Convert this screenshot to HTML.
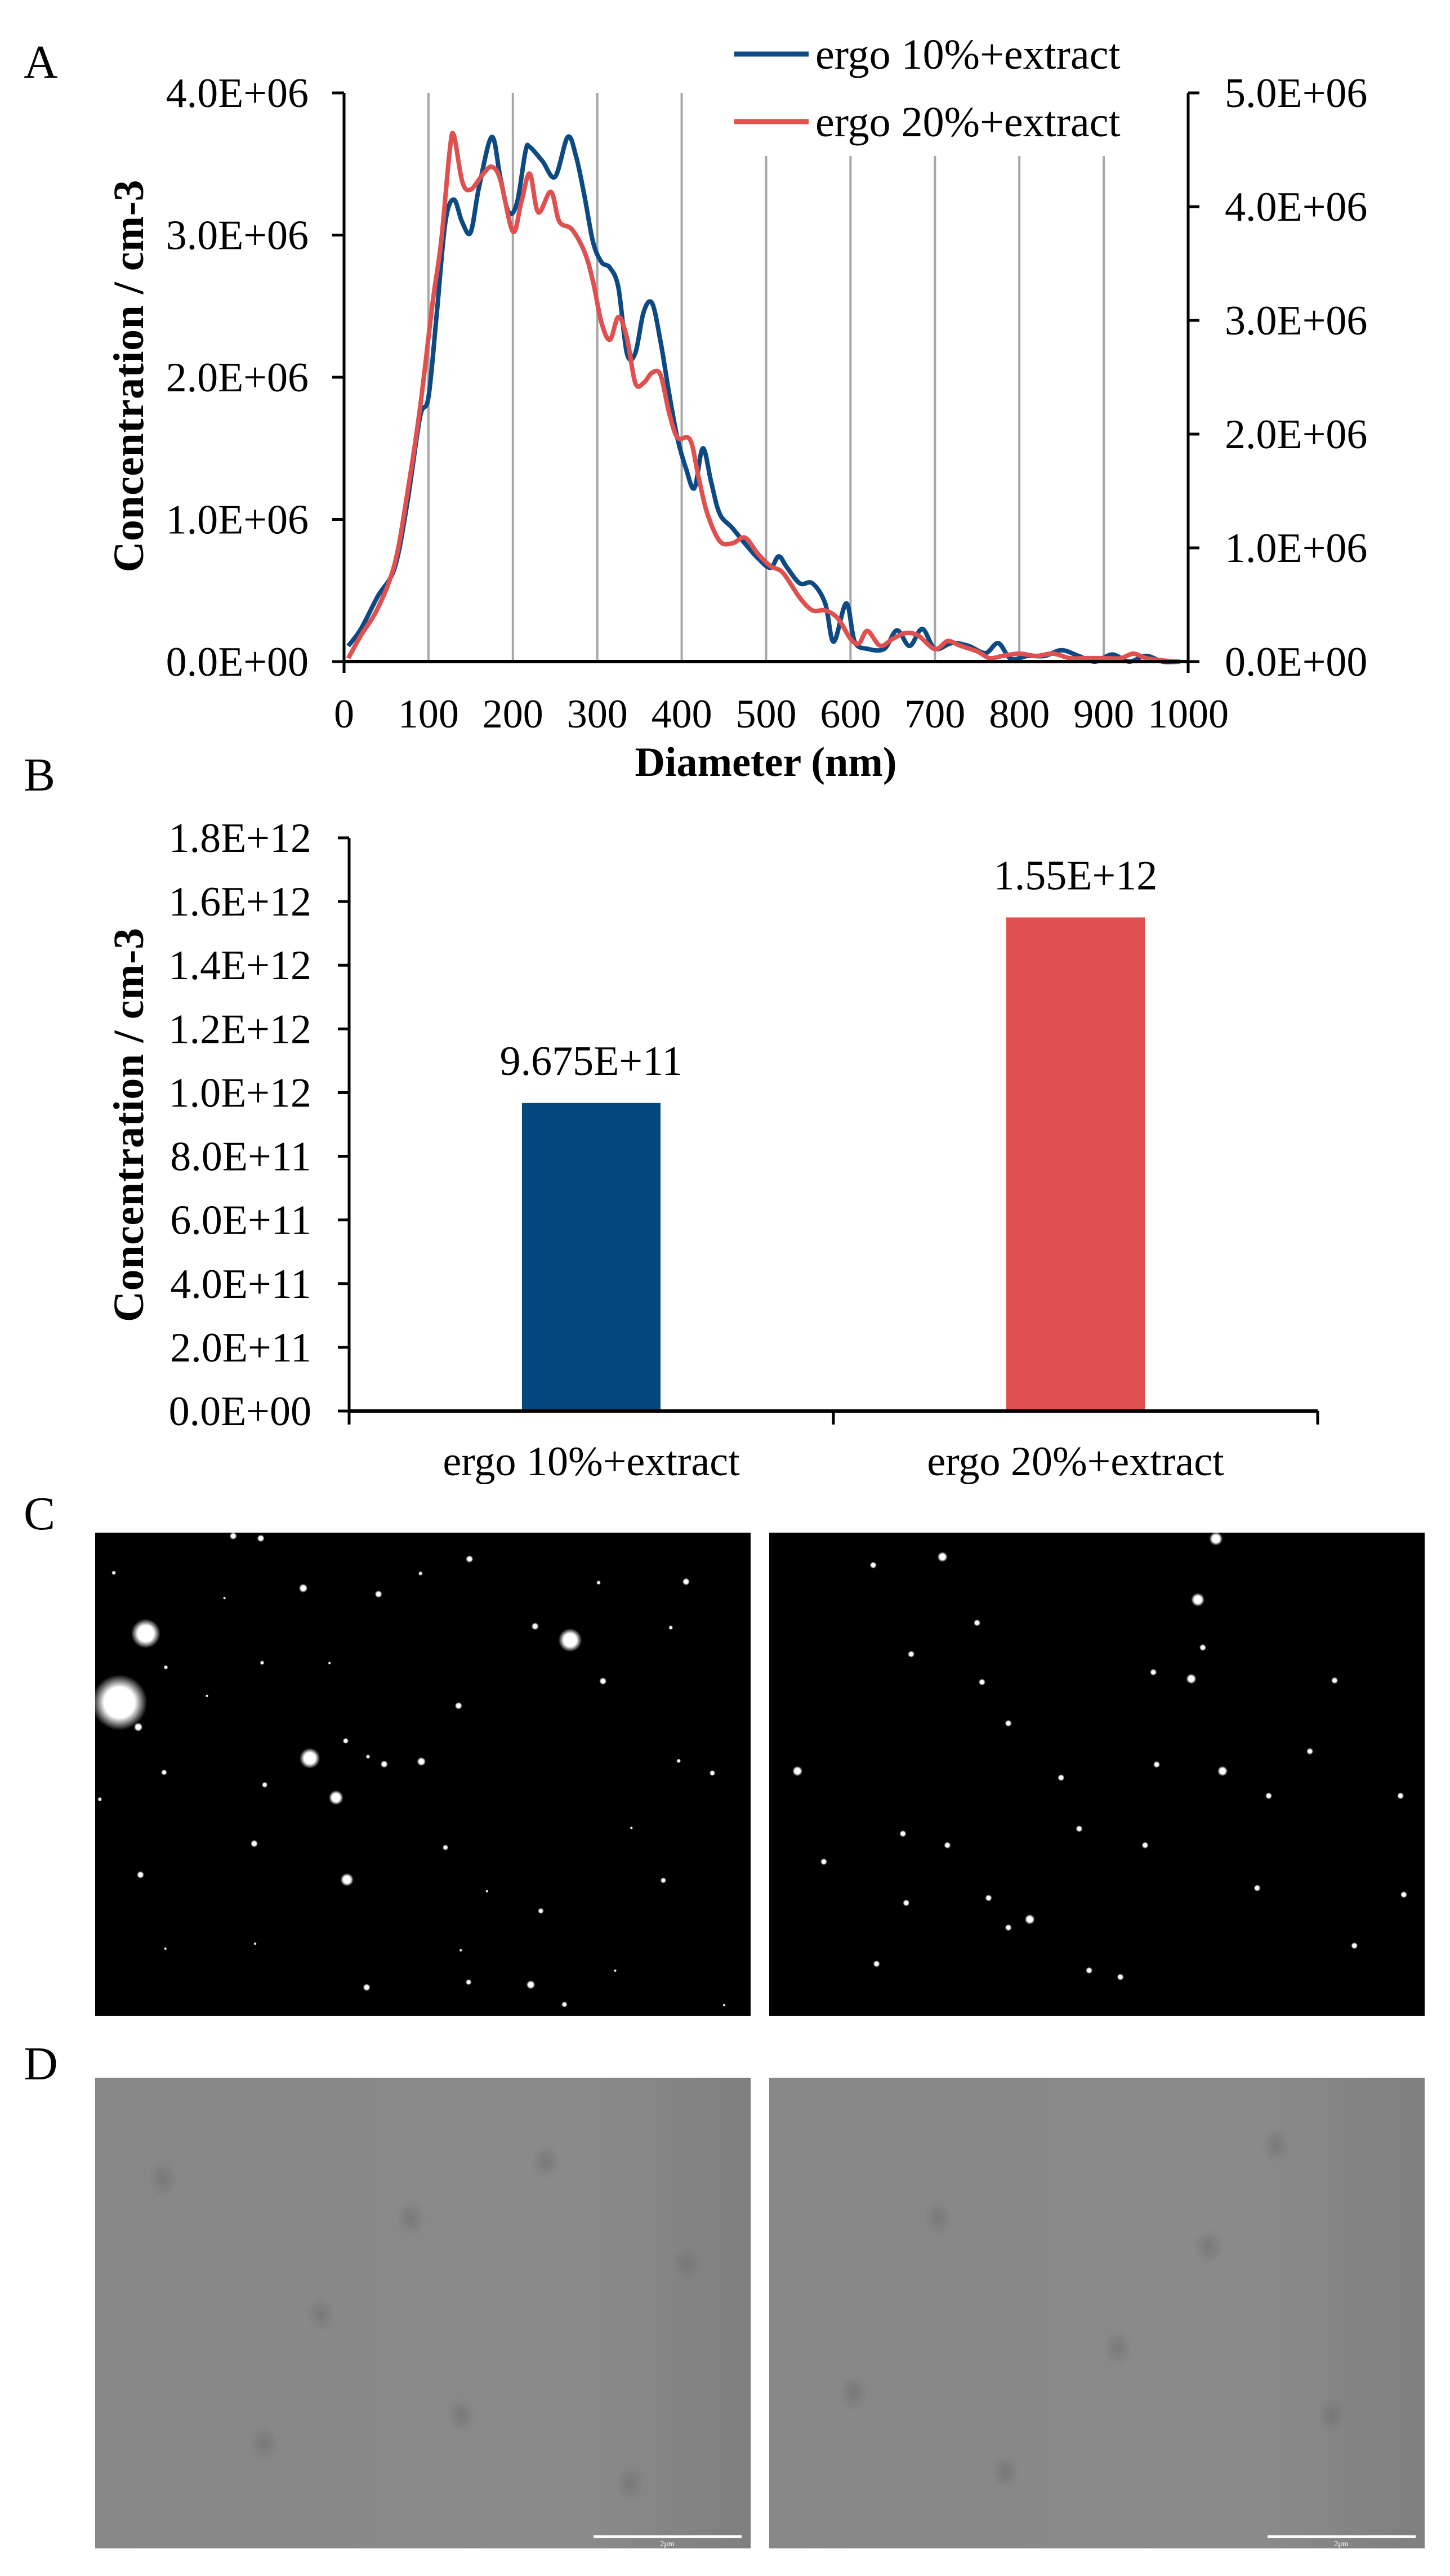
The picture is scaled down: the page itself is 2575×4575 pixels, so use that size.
<!DOCTYPE html>
<html><head><meta charset="utf-8"><style>
html,body{margin:0;padding:0;background:#fff;}
svg{display:block;}
text{font-family:"Liberation Serif",serif;fill:#000;}
</style></head><body>
<svg id="fig" width="2575" height="4575" viewBox="0 0 2575 4575" xmlns="http://www.w3.org/2000/svg">
<defs>
<radialGradient id="glow"><stop offset="0" stop-color="#fff"/><stop offset="0.55" stop-color="#fff"/><stop offset="1" stop-color="#fff" stop-opacity="0"/></radialGradient>
<radialGradient id="blob"><stop offset="0" stop-color="#6e6e6e" stop-opacity="0.6"/><stop offset="1" stop-color="#6e6e6e" stop-opacity="0"/></radialGradient>
<linearGradient id="dshade" x1="0" x2="1"><stop offset="0" stop-color="#878787"/><stop offset="0.75" stop-color="#8a8a8a"/><stop offset="1" stop-color="#7f7f7f"/></linearGradient>
</defs>
<g id="panelA"></g>
<g id="panelB"></g>
<g id="panelC"></g>
<g id="panelD"></g>
</svg>
<script>
// ---- Chart A data ----
const diamBlue = [5,20,40,60,75,90,100,110,120,130,140,150,160,175,185,195,205,215,220,235,250,265,275,285,295,305,315,325,335,345,355,365,375,385,395,405,415,425,435,445,460,475,490,505,515,525,540,555,570,580,595,605,620,640,655,670,685,700,720,740,760,775,790,810,830,850,870,890,910,930,950,970,990];
const concBlue = [0.11,0.23,0.46,0.66,1.12,1.72,1.86,2.46,3.09,3.25,3.09,3.02,3.34,3.69,3.41,3.16,3.23,3.59,3.62,3.52,3.41,3.69,3.55,3.27,2.95,2.81,2.77,2.63,2.17,2.17,2.46,2.52,2.25,1.89,1.57,1.36,1.22,1.50,1.26,1.04,0.94,0.83,0.73,0.66,0.74,0.66,0.55,0.55,0.41,0.14,0.41,0.14,0.09,0.09,0.22,0.11,0.23,0.09,0.13,0.11,0.06,0.13,0.02,0.04,0.04,0.08,0.04,0.00,0.05,0.00,0.04,0.00,0.00];
const diamRed = [5,20,40,60,75,90,105,115,125,130,140,150,165,175,185,200,210,220,230,245,255,270,285,295,305,315,325,335,345,355,365,375,385,395,410,420,430,445,460,475,490,505,520,540,555,570,585,600,610,620,635,650,665,680,700,715,730,750,765,780,800,820,840,860,880,900,920,935,950,970,990];
const concRed = [0.03,0.23,0.47,0.86,1.48,2.23,3.16,3.69,4.48,4.63,4.22,4.15,4.29,4.35,4.24,3.78,4.04,4.29,3.95,4.13,3.87,3.80,3.60,3.34,2.98,2.83,3.03,2.85,2.45,2.45,2.54,2.52,2.19,1.97,1.95,1.62,1.31,1.06,1.04,1.09,0.95,0.84,0.78,0.56,0.45,0.45,0.38,0.20,0.16,0.27,0.14,0.20,0.25,0.23,0.11,0.18,0.14,0.09,0.03,0.05,0.07,0.05,0.07,0.03,0.03,0.03,0.03,0.07,0.03,0.01,0.00];
const xTicksA = [0,100,200,300,400,500,600,700,800,900,1000];
const yTicksLeft = ["0.0E+00","1.0E+06","2.0E+06","3.0E+06","4.0E+06"];
const yTicksRight = ["0.0E+00","1.0E+06","2.0E+06","3.0E+06","4.0E+06","5.0E+06"];
const seriesNames = ["ergo 10%+extract","ergo 20%+extract"];
// ---- Chart B data ----
const barCats = ["ergo 10%+extract","ergo 20%+extract"];
const barVals = [9.675e11,1.55e12];
const barLabels = ["9.675E+11","1.55E+12"];
const yTicksB = ["0.0E+00","2.0E+11","4.0E+11","6.0E+11","8.0E+11","1.0E+12","1.2E+12","1.4E+12","1.6E+12","1.8E+12"];

const NS="http://www.w3.org/2000/svg";
function mk(parent,tag,attrs,txt){const e=document.createElementNS(NS,tag);for(const k in attrs)e.setAttribute(k,attrs[k]);if(txt!==undefined)e.textContent=txt;parent.appendChild(e);return e;}
const BLUE="#0d4a83",RED="#df504e";

// ===== Panel A =====
const A=document.getElementById('panelA');
const ax0=611, ax1=2110, ay0=1175, ay1=165;
const xA=v=>ax0+(v/1000)*(ax1-ax0);
const yL=v=>ay0-(v/4)*(ay0-ay1);
const yR=v=>ay0-(v/5)*(ay0-ay1);
let t=mk(A,'text',{x:42,y:138,'font-size':84});t.textContent="A";

xTicksA.forEach((v,i)=>{
  if(v>0&&v<1000){const top=v>=500?277:ay1;
    const g=mk(A,'line',{x1:xA(v),x2:xA(v),y1:top,y2:ay0,stroke:'#a6a6a6','stroke-width':4});
    }
  const l=mk(A,'text',{x:xA(v),y:1292,'font-size':72,'text-anchor':'middle'},String(v));
  
});
yTicksLeft.forEach((s,i)=>{const y=yL(i);
  mk(A,'line',{x1:590,x2:ax0,y1:y,y2:y,stroke:'#000','stroke-width':5});
  const l=mk(A,'text',{x:548,y:y+25,'font-size':74,'text-anchor':'end'},s);
  });
yTicksRight.forEach((s,i)=>{const y=yR(i);
  mk(A,'line',{x1:ax1,x2:ax1+20,y1:y,y2:y,stroke:'#000','stroke-width':5});
  const l=mk(A,'text',{x:2175,y:y+25,'font-size':74},s);
  });
function smooth(pts){let d=`M${pts[0][0]},${pts[0][1]}`;
  for(let i=0;i<pts.length-1;i++){const p0=pts[i-1]||pts[i],p1=pts[i],p2=pts[i+1],p3=pts[i+2]||p2;
    const c1=[p1[0]+(p2[0]-p0[0])/6,p1[1]+(p2[1]-p0[1])/6],c2=[p2[0]-(p3[0]-p1[0])/6,p2[1]-(p3[1]-p1[1])/6];
    d+=`C${c1[0].toFixed(1)},${c1[1].toFixed(1)} ${c2[0].toFixed(1)},${c2[1].toFixed(1)} ${p2[0].toFixed(1)},${p2[1].toFixed(1)}`;}
  return d;}
const pb=mk(A,'path',{d:smooth(diamBlue.map((d,i)=>[xA(d),yL(concBlue[i])])),fill:'none',stroke:BLUE,'stroke-width':8,'stroke-linejoin':'round'});

const pr=mk(A,'path',{d:smooth(diamRed.map((d,i)=>[xA(d),yR(concRed[i])])),fill:'none',stroke:RED,'stroke-width':8,'stroke-linejoin':'round'});

mk(A,'line',{x1:ax0,x2:ax0,y1:ay1,y2:1195,stroke:'#000','stroke-width':5});
mk(A,'line',{x1:ax1,x2:ax1,y1:ay1,y2:1195,stroke:'#000','stroke-width':5});
mk(A,'line',{x1:ax0,x2:ax1,y1:ay0,y2:ay0,stroke:'#000','stroke-width':6});
[[BLUE,96,seriesNames[0]],[RED,216,seriesNames[1]]].forEach(([c,y,s])=>{
  const ln=mk(A,'line',{x1:1304,x2:1436,y1:y,y2:y,stroke:c,'stroke-width':9});
  
  const lt=mk(A,'text',{x:1448,y:y+26,'font-size':76},s);
  });
t=mk(A,'text',{x:1360,y:1378,'font-size':74,'font-weight':'bold','text-anchor':'middle'},"Diameter (nm)");

t=mk(A,'text',{x:0,y:0,'font-size':76,'font-weight':'bold','text-anchor':'middle',transform:'translate(254,668) rotate(-90)',textLength:697,lengthAdjust:'spacing'},"Concentration / cm-3");


// ===== Panel B =====
const B=document.getElementById('panelB');
const bx0=620,bx1=2340,by0=2506,by1=1488;
const yB=v=>by0-(v/1.8e12)*(by0-by1);
const catW=(bx1-bx0)/barCats.length;
t=mk(B,'text',{x:42,y:1404,'font-size':84},"B");

yTicksB.forEach((s,i)=>{const y=yB(i*2e11);
  mk(B,'line',{x1:600,x2:bx0,y1:y,y2:y,stroke:'#000','stroke-width':5});
  const l=mk(B,'text',{x:553,y:y+25,'font-size':74,'text-anchor':'end'},s);
  });
barVals.forEach((v,i)=>{const cx=bx0+catW*(i+0.5),w=246;
  const r=mk(B,'rect',{x:cx-w/2,y:yB(v),width:w,height:by0-yB(v),fill:i?RED:'#02487f'});
  
  const vl=mk(B,'text',{x:cx,y:yB(v)-50,'font-size':74,'text-anchor':'middle'},barLabels[i]);
  
  const cl=mk(B,'text',{x:cx,y:2620,'font-size':74,'text-anchor':'middle'},barCats[i]);
  });
mk(B,'line',{x1:bx0,x2:bx0,y1:by1,y2:2530,stroke:'#000','stroke-width':5});
mk(B,'line',{x1:bx0,x2:bx1,y1:by0,y2:by0,stroke:'#000','stroke-width':6});
[1,2].forEach(i=>mk(B,'line',{x1:bx0+catW*i,x2:bx0+catW*i,y1:by0,y2:2530,stroke:'#000','stroke-width':5}));
t=mk(B,'text',{x:0,y:0,'font-size':76,'font-weight':'bold','text-anchor':'middle',transform:'translate(254,1998) rotate(-90)',textLength:700,lengthAdjust:'spacing'},"Concentration / cm-3");


// ===== Panel C =====
const C=document.getElementById('panelC');
t=mk(C,'text',{x:42,y:2716,'font-size':84},"C");

const leftC=mk(C,'g',{});
mk(leftC,'rect',{x:169,y:2722,width:1164,height:858,fill:'#000'});
const dotsL=[[140,345,20],[80,555,38],[515,725,14],[1110,365,16],[575,845,10],[600,1095,9],[500,207,6],[672,225,5],[880,118,5],[1375,187,5],[1185,490,5],[855,565,5],[1030,323,5],[685,743,5],[770,735,6],[388,985,5],[825,997,4],[1323,1097,4],[1043,1190,4],[645,1423,5],[1020,1415,6],[1097,1475,4],[182,768,4],[412,806,4],[128,1080,5],[340,48,5],[403,55,5],[67,160,3],[768,162,3],[1175,190,3],[1340,327,3],[186,448,3],[406,434,3],[597,672,4],[648,720,3],[1358,733,3],[1435,770,4],[35,850,3],[878,1407,4],[123,630,6],[320,237,2],[560,435,2],[280,535,2],[920,1130,2],[1250,937,2],[860,1310,2],[390,1290,2],[185,1305,2],[1213,1372,2],[1462,1477,2]];
dotsL.forEach(([X,Y,r])=>mk(leftC,'circle',{cx:150+0.777*X,cy:2700+0.583*Y,r:r*1.3,fill:'url(#glow)'}));
const rightC=mk(C,'g',{});
mk(rightC,'rect',{x:1366,y:2722,width:1164,height:858,fill:'#000'});
const dotsR=[[738,934,4],[572,945,3],[530,950,2],[593,985,2],[727,971,4],[596,1021,2],[553,1004,2],[723,1019,3],[612,1046,2],[484,1075,3],[702,1071,2],[742,1075,3],[644,1079,2],[795,1063,2],[548,1113,2],[550,1155,2],[600,1152,2],[625,1165,3],[612,1170,2],[661,1196,2],[532,1192,2],[822,1181,2],[852,1150,2],[763,1146,2],[575,1120,2],[695,1120,2],[655,1110,2],[700,1015,2],[730,1000,2],[770,1090,2],[850,1090,2],[680,1200,2],[500,1130,2],[810,1020,2]];
dotsR.forEach(([X,Y,r])=>mk(rightC,'circle',{cx:X*2.926,cy:Y*2.926,r:r*3,fill:'url(#glow)'}));

// ===== Panel D =====
const D=document.getElementById('panelD');
t=mk(D,'text',{x:42,y:3693,'font-size':84},"D");

[[169,'tem-image-ergo-10'],[1366,'tem-image-ergo-20']].forEach(([x0,nm],k)=>{
  const g=mk(D,'g',{});
  mk(g,'rect',{x:x0,y:3690,width:1164,height:836,fill:'url(#dshade)'});
  const blobs=k?[[300,250],[620,480],[900,120],[420,700],[1000,600],[150,560],[780,300]]:[[120,180],[400,420],[800,150],[1050,330],[300,650],[650,600],[950,720],[560,250]];
  blobs.forEach(([bx,by])=>mk(g,'ellipse',{cx:x0+bx,cy:3690+by,rx:26,ry:32,fill:'url(#blob)'}));
  const sb=mk(g,'line',{x1:x0+885,x2:x0+1148,y1:4505,y2:4505,stroke:'#fff','stroke-width':5});
  
  mk(g,'text',{x:x0+1016,y:4522,'font-size':14,'text-anchor':'middle',style:'fill:#fff'},"2μm");
});
</script>
</body></html>
